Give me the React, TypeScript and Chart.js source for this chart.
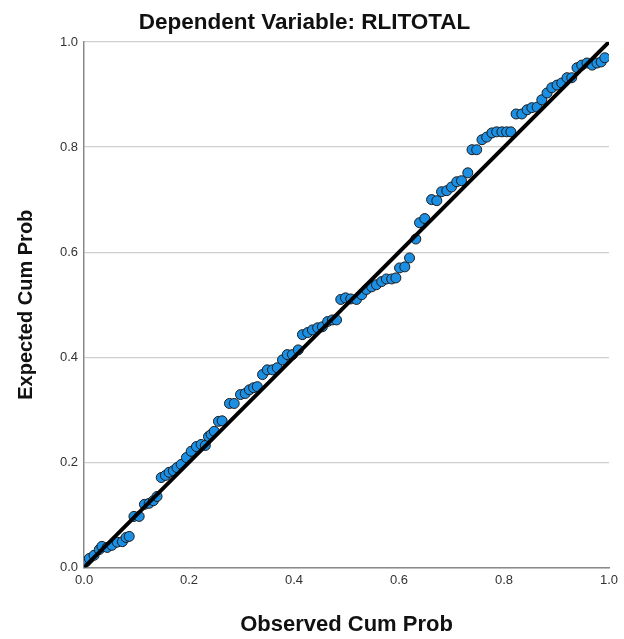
import React, { useEffect, useRef } from "react";
import { Chart, registerables } from "chart.js";

Chart.register(...registerables);

const titleText = "Dependent Variable: RLITOTAL";
const xAxisTitle = "Observed Cum Prob";
const yAxisTitle = "Expected Cum Prob";
const tickValues = [0, 0.2, 0.4, 0.6, 0.8, 1.0];

const observedCumProb = [
  0.004, 0.010, 0.019, 0.029, 0.034, 0.044, 0.053, 0.063, 0.073, 0.080,
  0.086, 0.095, 0.105, 0.115, 0.124, 0.132, 0.139, 0.147, 0.155, 0.162,
  0.170, 0.177, 0.185, 0.195, 0.204, 0.214, 0.223, 0.231, 0.237, 0.242,
  0.248, 0.256, 0.263, 0.277, 0.286, 0.298, 0.307, 0.315, 0.323, 0.330,
  0.340, 0.349, 0.359, 0.368, 0.378, 0.387, 0.397, 0.408, 0.416, 0.426,
  0.435, 0.445, 0.454, 0.464, 0.473, 0.481, 0.489, 0.498, 0.508, 0.519,
  0.529, 0.538, 0.548, 0.557, 0.567, 0.576, 0.586, 0.594, 0.601, 0.611,
  0.620, 0.632, 0.639, 0.649, 0.662, 0.672, 0.681, 0.691, 0.700, 0.710,
  0.719, 0.731, 0.739, 0.748, 0.758, 0.767, 0.777, 0.786, 0.796, 0.805,
  0.813, 0.823, 0.834, 0.844, 0.853, 0.863, 0.872, 0.882, 0.891, 0.901,
  0.910, 0.920, 0.929, 0.939, 0.948, 0.958, 0.968, 0.977, 0.985, 0.992,
];

const expectedCumProb = [
  0.011, 0.017, 0.023, 0.034, 0.040, 0.038, 0.042, 0.048, 0.049, 0.057,
  0.059, 0.097, 0.097, 0.120, 0.122, 0.127, 0.135, 0.171, 0.175, 0.181,
  0.184, 0.190, 0.196, 0.209, 0.221, 0.230, 0.234, 0.232, 0.249, 0.253,
  0.259, 0.278, 0.279, 0.312, 0.312, 0.329, 0.331, 0.338, 0.342, 0.344,
  0.367, 0.376, 0.376, 0.380, 0.395, 0.405, 0.405, 0.414, 0.443, 0.447,
  0.452, 0.456, 0.458, 0.468, 0.471, 0.471, 0.510, 0.513, 0.511, 0.510,
  0.519, 0.529, 0.534, 0.538, 0.544, 0.549, 0.549, 0.551, 0.570, 0.572,
  0.589, 0.625, 0.656, 0.664, 0.700, 0.698, 0.715, 0.717, 0.724, 0.734,
  0.736, 0.751, 0.795, 0.795, 0.814, 0.819, 0.827, 0.829, 0.829, 0.829,
  0.829, 0.863, 0.863, 0.871, 0.875, 0.876, 0.890, 0.903, 0.913, 0.918,
  0.922, 0.932, 0.932, 0.951, 0.956, 0.960, 0.956, 0.960, 0.962, 0.970,
];

const refLineX = [0, 1];
const refLineY = [0, 1];

const FONT = "'Liberation Sans', Arial, sans-serif";

export default function App() {
  const canvasRef = useRef<HTMLCanvasElement | null>(null);

  useEffect(() => {
    if (!canvasRef.current) return;
    const points = observedCumProb.map((x, i) => ({ x, y: expectedCumProb[i] }));
    const line = refLineX.map((x, i) => ({ x, y: refLineY[i] }));
    const chart = new Chart(canvasRef.current, {
      type: "scatter",
      data: {
        datasets: [
          {
            type: "line",
            data: line,
            borderColor: "#000000",
            borderWidth: 4,
            pointRadius: 0,
            fill: false,
            showLine: true,
          },
          {
            type: "scatter",
            data: points,
            backgroundColor: "#1a8fe3",
            borderColor: "#1c1c1c",
            borderWidth: 1,
            pointRadius: 5,
          },
        ],
      },
      options: {
        animation: false,
        responsive: false,
        layout: { padding: { left: 0, right: 15, top: 0, bottom: 0 } },
        plugins: {
          legend: { display: false },
          tooltip: { enabled: false },
          title: {
            display: true,
            text: titleText,
            color: "#111",
            font: { family: FONT, size: 22.5, weight: "bold" },
            padding: { top: 9, bottom: 6 },
          },
        },
        scales: {
          x: {
            type: "linear",
            min: 0,
            max: 1,
            afterBuildTicks: (axis: any) => {
              axis.ticks = tickValues.map((v) => ({ value: v }));
            },
            ticks: {
              color: "#333",
              font: { family: FONT, size: 13 },
              padding: 5,
              callback: (v: any) => Number(v).toFixed(1),
            },
            grid: { display: false, drawTicks: false },
            border: { display: true, color: "#8a8a8a", width: 1.5 },
            title: {
              display: true,
              text: xAxisTitle,
              color: "#111",
              font: { family: FONT, size: 22, weight: "bold" },
              padding: { top: 18.8, bottom: 0.8 },
            },
          },
          y: {
            type: "linear",
            min: 0,
            max: 1,
            afterBuildTicks: (axis: any) => {
              axis.ticks = tickValues.map((v) => ({ value: v }));
            },
            ticks: {
              color: "#333",
              font: { family: FONT, size: 13 },
              padding: 6,
              callback: (v: any) => Number(v).toFixed(1),
            },
            grid: { display: true, drawTicks: false, color: "#cfcfcf", lineWidth: 1.2 },
            border: { display: true, color: "#8a8a8a", width: 1.5 },
            title: {
              display: true,
              text: yAxisTitle,
              color: "#111",
              font: { family: FONT, size: 20, weight: "bold" },
              padding: { top: 14, bottom: 16 },
            },
          },
        },
      },
    });
    return () => chart.destroy();
  }, []);

  return (
    <div style={{ position: "absolute", left: 0, top: 0, width: 624, height: 639, background: "#fff" }}>
      <canvas ref={canvasRef} width={624} height={639} style={{ display: "block" }} />
    </div>
  );
}
